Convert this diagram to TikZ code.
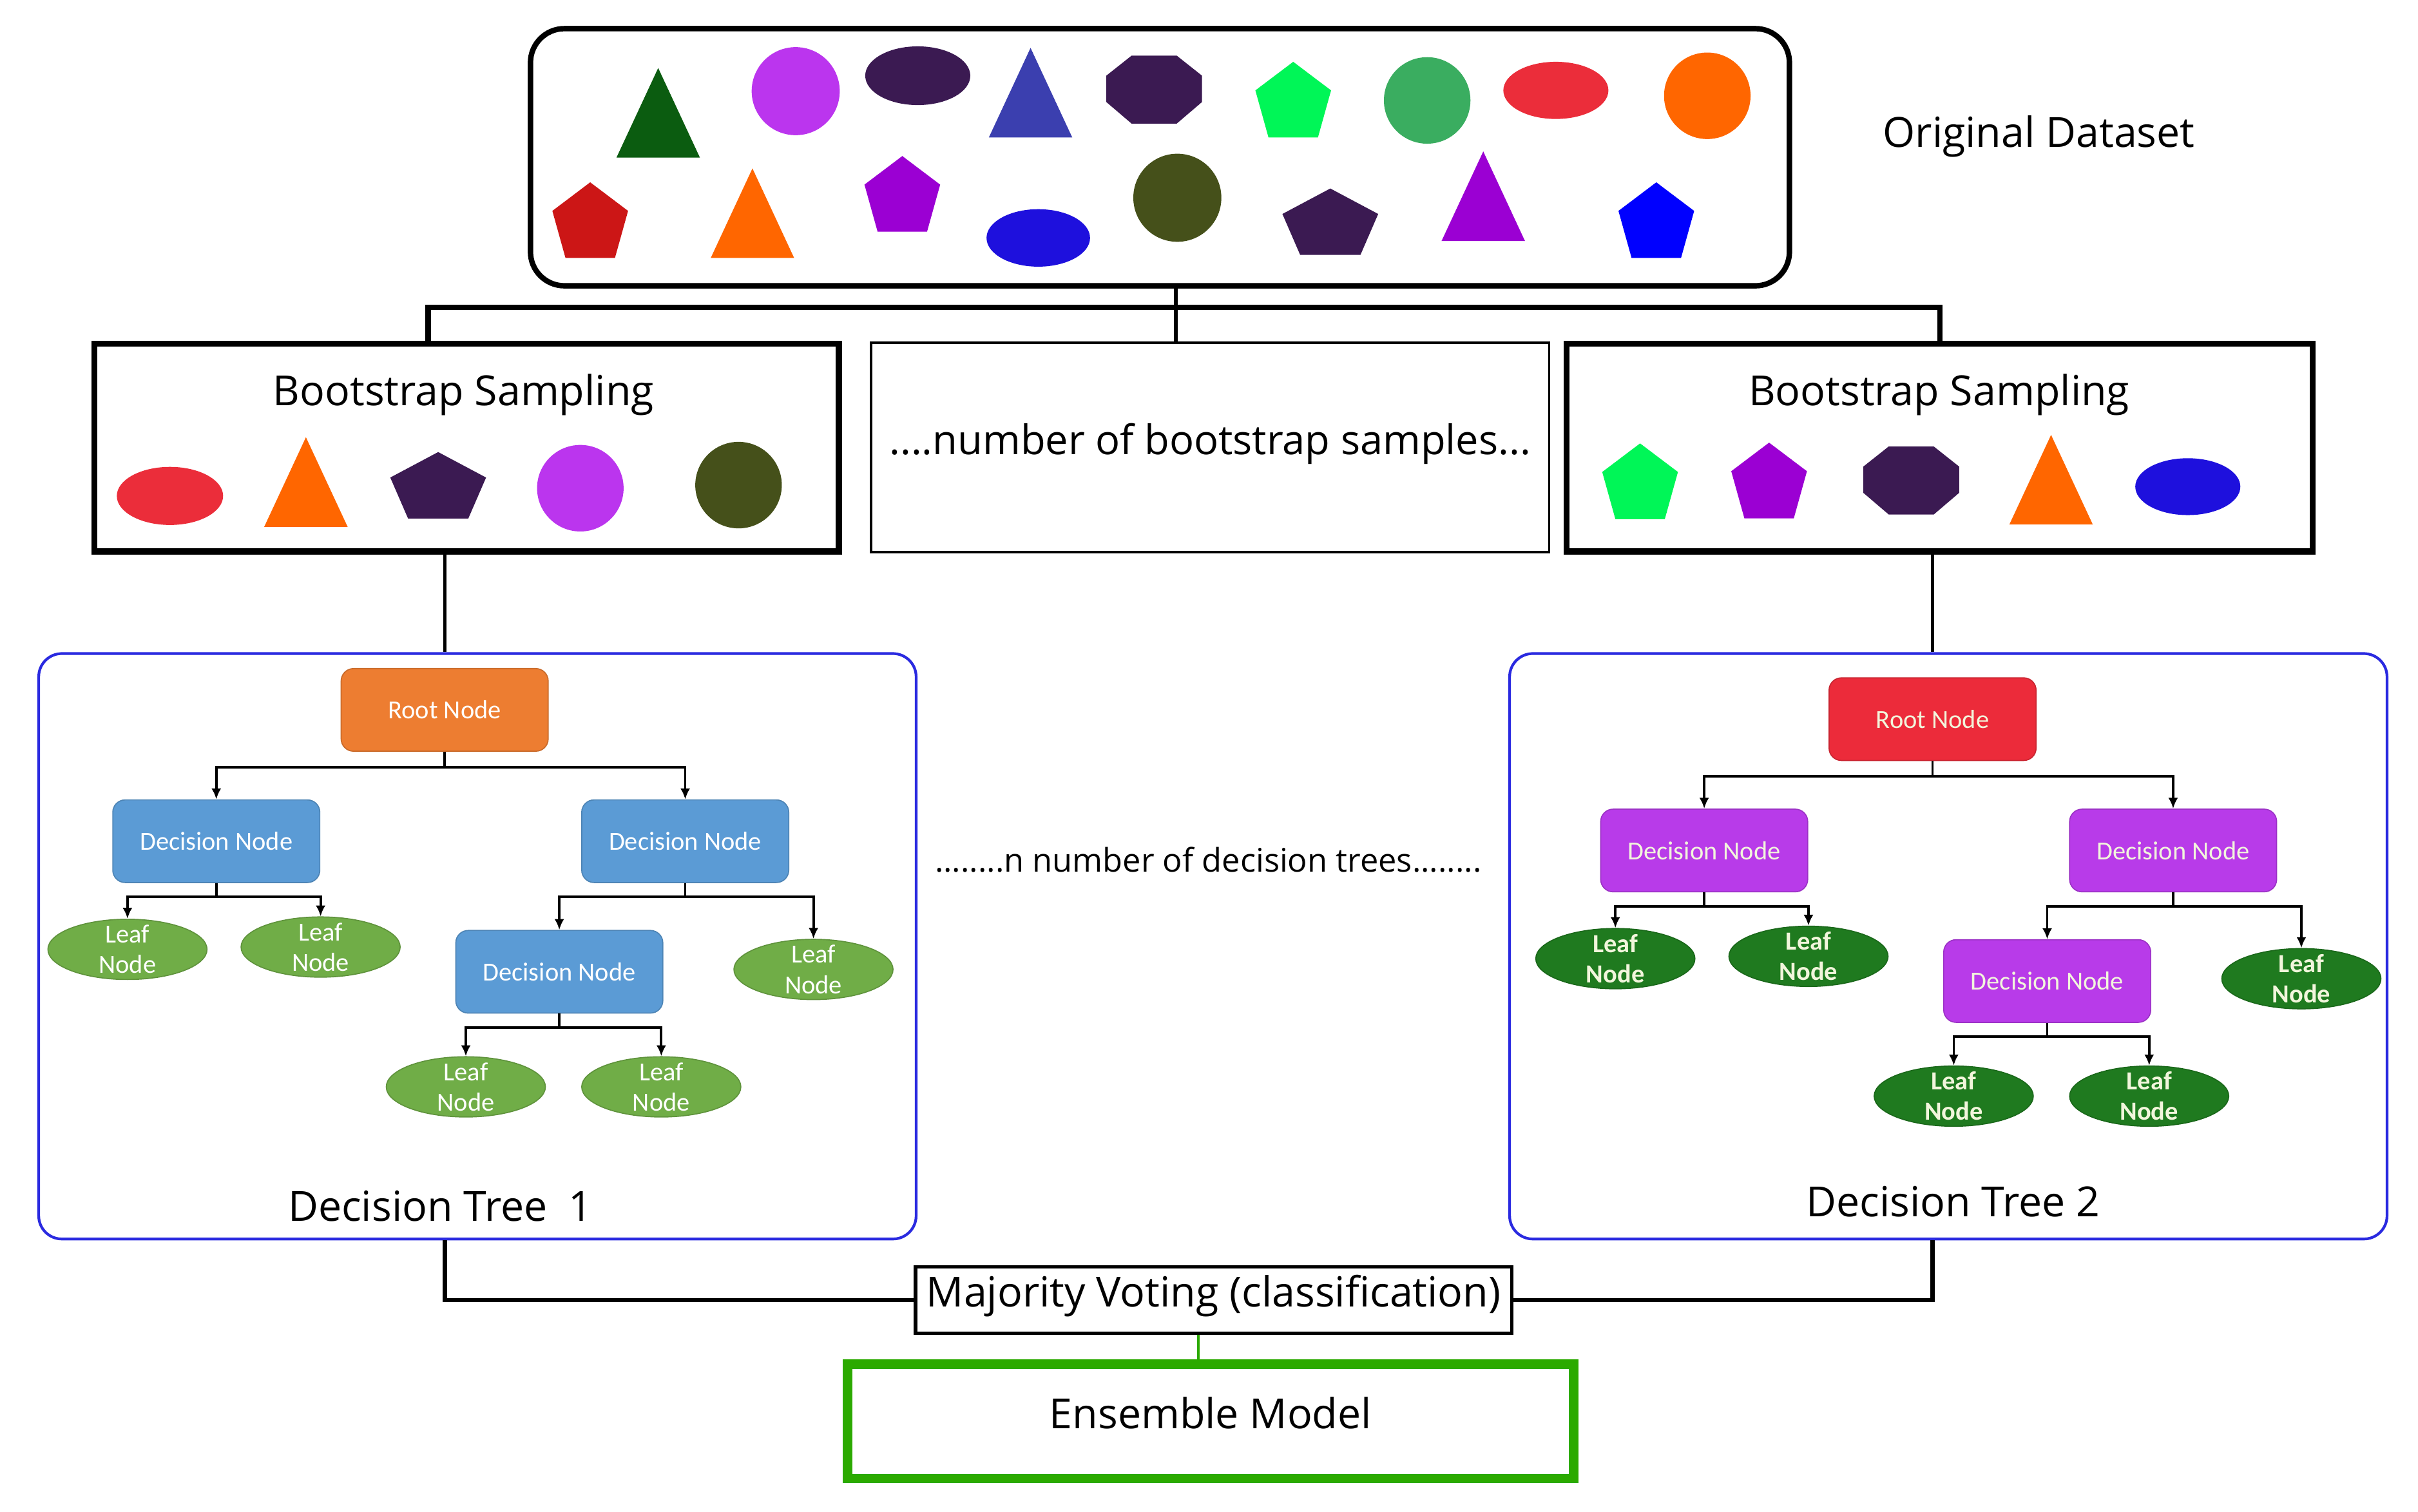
\documentclass[tikz,border=0pt]{standalone}
\usepackage{fontspec}
\setmainfont{Open Sans}
\newfontfamily\calibri{Carlito}
\usepackage{xcolor}
\usetikzlibrary{shapes.geometric,arrows.meta}

\definecolor{dkgreen}{HTML}{0B5C10}
\definecolor{lilac}{HTML}{BB35EE}
\definecolor{plum}{HTML}{3B1A52}
\definecolor{indigo}{HTML}{3B3FAF}
\definecolor{mint}{HTML}{00F657}
\definecolor{jade}{HTML}{3AAD60}
\definecolor{scarlet}{HTML}{EB2D3A}
\definecolor{tangerine}{HTML}{FF6600}
\definecolor{crimson}{HTML}{CC1616}
\definecolor{grape}{HTML}{9B00D3}
\definecolor{royal}{HTML}{1E10DD}
\definecolor{moss}{HTML}{45501A}
\definecolor{pureblue}{HTML}{0000FF}
\definecolor{rootA}{HTML}{ED7D31}
\definecolor{decA}{HTML}{5B9BD5}
\definecolor{leafA}{HTML}{70AD47}
\definecolor{rootB}{HTML}{EC2B3A}
\definecolor{decB}{HTML}{B83BE9}
\definecolor{leafB}{HTML}{1F7A1F}
\definecolor{cream}{HTML}{F2F6DC}
\definecolor{treeline}{HTML}{2A2AE0}
\definecolor{ensgreen}{HTML}{2BAA00}

\tikzset{
  box/.style={draw, rectangle, inner sep=0pt, text height=0.76em, text depth=0.25em,
    font=\fontsize{15.3}{18}\selectfont},
  title/.style={inner sep=0pt, font=\fontsize{15.3}{18}\selectfont},
  treebox/.style={draw=treeline, line width=1pt, rounded corners=0.3cm,
    minimum width=11.36cm, minimum height=7.58cm},
  tnode/.style={rectangle, rounded corners=0.16cm, line width=0.4pt, inner sep=0pt,
    minimum width=2.68cm, minimum height=1.07cm, font=\calibri\fontsize{9.6}{11.2}\selectfont},
  leaf/.style={ellipse, line width=0.4pt, inner xsep=0pt, inner ysep=-2pt, align=center,
    minimum width=2.06cm, minimum height=0.78cm},
  arr/.style={-{Latex[length=4pt,width=3.6pt]}, line width=0.9pt},
  link/.style={line width=1.6pt}
}

\begin{document}
\begin{tikzpicture}[x=0.02cm,y=-0.02cm]
\path[use as bounding box, fill=white] (0,0) rectangle (1565,978.3);

% original data
\node[box, line width=2pt, rounded corners=0.44cm, minimum width=16.3cm, minimum height=3.33cm] (data) at (750.75,101.75) {};
\node[title, anchor=base] (orig) at (1319.6,95.2) {Original Dataset};

% bootstrap boxes
\node[box, line width=2.2pt, minimum width=9.64cm, minimum height=2.69cm] (bootL) at (302,289.7) {};
\node[box, line width=2.2pt, minimum width=9.66cm, minimum height=2.69cm] (bootR) at (1255.5,289.7) {};
\node[box, line width=0.9pt, minimum width=8.78cm, minimum height=2.71cm, font=\fontsize{15}{18}\selectfont] (mid) at (783.2,289.5) {....number of bootstrap samples...};
\node[title, anchor=base] (sampL) at (300,262.7) {Bootstrap Sampling};
\node[title, anchor=base] (sampR) at (1255,262.7) {Bootstrap Sampling};

% triangles
\foreach \x/\y/\c in {426/44/dkgreen,667/31/indigo,487/109/tangerine,960/98/grape,198/283/tangerine,1327.5/281.5/tangerine}
  \fill[\c] (\x,\y) -- ++(27,58) -- ++(-54,0) -- cycle;
% pentagons
\foreach \x/\y/\c in {382/118/crimson,584/101/grape,837/40/mint,1072/118/pureblue,1061.5/287/mint,1145/286.5/grape}
  \fill[\c] (\x,\y) -- ++(24.5,18.5) -- ++(-8.5,30.5) -- ++(-32,0) -- ++(-8.5,-30.5) -- cycle;
\foreach \x/\y in {861/122,283.6/292.6}
  \fill[plum] (\x,\y) -- ++(31,16.5) -- ++(-11.5,26.5) -- ++(-39,0) -- ++(-11.5,-26.5) -- cycle;
% octagons
\foreach \x/\y in {747/58,1237/311}
  \fill[plum] (\x-14.6,\y-22) -- ++(29.2,0) -- ++(16.4,13) -- ++(0,17) -- ++(-16.4,14) -- ++(-29.2,0) -- ++(-16.4,-14) -- ++(0,-17) -- cycle;
% circles and ellipses
\foreach \x/\y/\a/\b/\c in {515/59/28.5/28.5/lilac,594/49/34/19/plum,923.7/65/28/28/jade,1007/58.5/34/18.5/scarlet,1105/62/28/28/tangerine,672/154/33.5/18.6/royal,762/128/28.5/28.5/moss,110/321/34.4/18.8/scarlet,375.6/316/28/28/lilac,478/314/28/28/moss,1416/315/34/18.4/royal}
  \fill[\c] (\x,\y) ellipse [x radius=\a, y radius=\b];

% split lines
\coordinate (split) at (761,199);
\draw[line width=1.4pt] (split) -- (split |- data.south);
\draw[line width=1.4pt] (split) -- (split |- mid.north);
\draw[line width=2pt] ([xshift=-0.5cm]bootL.north) |- (split) -| (bootR.north);

% trees
\node[treebox] (tree1) at (309,612.5) {};
\node[treebox] (tree2) at (1261,612.5) {};
\foreach \tr/\dx/\dy/\rc/\dc/\lc/\tc/\lf in {1/0/0/rootA/decA/leafA/white/\mdseries,2/963/6/rootB/decB/leafB/cream/\bfseries}{
\begin{scope}[shift={(\dx,\dy)}]
\node[tnode, fill=\rc, draw=\rc!85!black, text=\tc] (root\tr) at (287.8,459.5) {Root Node};
\node[tnode, fill=\dc, draw=\dc!85!black, text=\tc] (dl\tr) at (140,544.5) {Decision Node};
\node[tnode, fill=\dc, draw=\dc!85!black, text=\tc] (dr\tr) at (443.5,544.5) {Decision Node};
\node[tnode, fill=\dc, draw=\dc!85!black, text=\tc] (dm\tr) at (362,629) {Decision Node};
\foreach \n/\x/\y in {la/82.5/614.5,lb/207.5/613,lc/526.5/627.5,ld/301.5/703.5,le/428/703.5}
  \node[leaf, fill=\lc, draw=\lc!85!black, text=\tc, font=\calibri\fontsize{9.6}{11.2}\selectfont\lf] (\n\tr) at (\x,\y) {Leaf\\Node};
\draw[arr] (root\tr.south) -- ++(0,10) -| (dl\tr.north);
\draw[arr] (root\tr.south) -- ++(0,10) -| (dr\tr.north);
\draw[arr] (dl\tr.south) -- ++(0,9) -| (la\tr.north);
\draw[arr] (dl\tr.south) -- ++(0,9) -| (lb\tr.north);
\draw[arr] (dr\tr.south) -- ++(0,9) -| (dm\tr.north);
\draw[arr] (dr\tr.south) -- ++(0,9) -| (lc\tr.north);
\draw[arr] (dm\tr.south) -- ++(0,9) -| (ld\tr.north);
\draw[arr] (dm\tr.south) -- ++(0,9) -| (le\tr.north);
\end{scope}}
\node[title, anchor=base] (dt1) at (285,790.3) {Decision Tree\ \ 1};
\node[title, anchor=base] (dt2) at (1264,787.3) {Decision Tree 2};
\node[inner sep=0pt, anchor=base, font=\fontsize{12}{14}\selectfont] (ntrees) at (782,564.6) {........n number of decision trees........};

\draw[line width=1.2pt] (bootL.south -| root1) -- (tree1.north -| root1);
\draw[line width=1.2pt] (bootR.south -| root2) -- (tree2.north -| root2);

% voting
\node[box, line width=1.3pt, minimum width=7.72cm, minimum height=0.86cm] (vote) at (785.5,841.5) {Majority Voting (classification)};
\node[box, draw=ensgreen, line width=3.4pt, minimum width=9.4cm, minimum height=1.48cm] (ens) at (783.5,920) {Ensemble Model};
\draw[link] (tree1.south -| root1) |- (vote.west);
\draw[link] (tree2.south -| root2) |- (vote.east);
\coordinate (vs) at ([xshift=-0.2cm]vote.south);
\draw[ensgreen, line width=1pt] (vs) -- (vs |- ens.north);
\end{tikzpicture}
\end{document}
